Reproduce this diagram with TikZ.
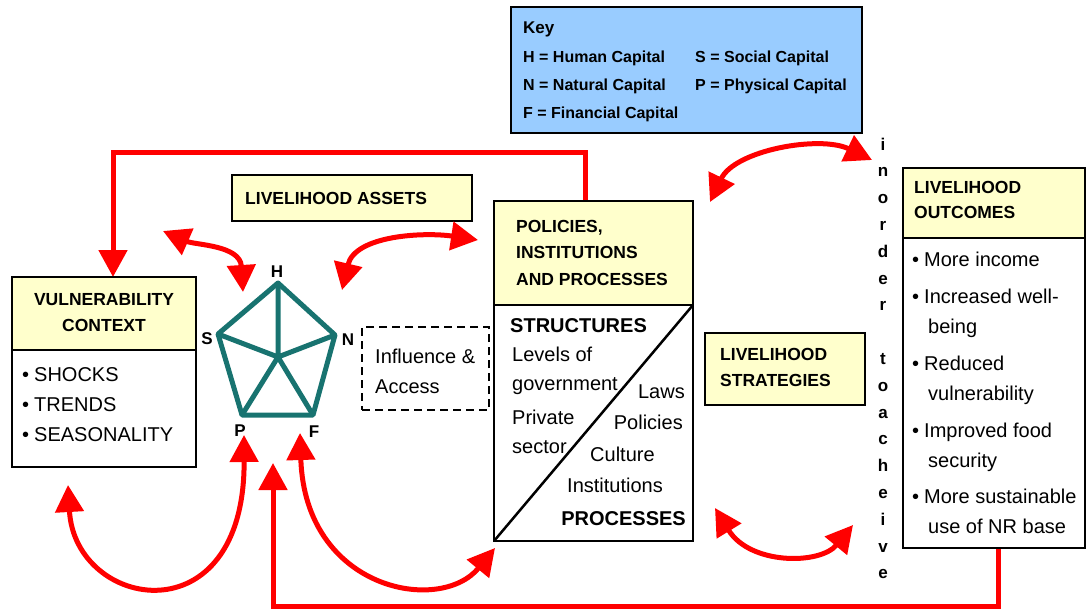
\documentclass[tikz,border=0pt]{standalone}
\usepackage{fontspec}
\setmainfont{Liberation Sans}
\usetikzlibrary{arrows.meta}
\definecolor{keyblue}{RGB}{153,204,255}
\definecolor{paleyel}{RGB}{255,255,204}
\definecolor{pentcol}{RGB}{24,115,112}
\definecolor{redl}{RGB}{255,0,0}
\begin{document}
\begin{tikzpicture}[x=1pt,y=-1pt,
 boxst/.style={draw=black, line width=2.5pt, inner sep=0pt, outer sep=0pt, anchor=north west},
 txt/.style={inner sep=0pt, anchor=base west, font=\fontsize{20}{24}\selectfont},
 hd/.style={inner sep=0pt, anchor=base west, font=\bfseries\fontsize{17.5}{21}\selectfont},
 bighd/.style={inner sep=0pt, anchor=base west, font=\bfseries\fontsize{20}{24}\selectfont},
 keyt/.style={inner sep=0pt, anchor=base west, font=\bfseries\fontsize{16}{19}\selectfont},
 lbl/.style={inner sep=0pt, font=\bfseries\fontsize{17}{20}\selectfont},
 redline/.style={draw=redl, line width=5pt},
 tip/.tip={Triangle[length=27pt,width=28pt]},
 redarr/.style={redline, tip-tip},
 pent/.style={draw=pentcol, line width=5pt, line join=round}
]
\useasboundingbox (0,0) rectangle (1086,613);

% ---------- red connectors (behind boxes) ----------
\coordinate (topL) at (113,152);
\coordinate (topR) at (585,152);
\coordinate (pipTop) at (585,201);
\coordinate (vcTop) at (113,277);
\draw[redline, -tip] (pipTop) -- (topR) -- (topL) -- (vcTop);

\coordinate (loBot) at (998,548);
\coordinate (botR) at (998,606);
\coordinate (botL) at (273,606);
\coordinate (pentArr) at (273,463);
\draw[redline, -tip] (loBot) -- (botR) -- (botL) -- (pentArr);

% ---------- key ----------
\node[boxst, fill=keyblue, minimum width=351pt, minimum height=126pt] (key) at (511,7) {};
\node[keyt, font=\bfseries\fontsize{17}{20}\selectfont] (keyT) at (523,33) {Key};
\node[keyt] (k1) at (523,62) {H = Human Capital};
\node[keyt] (k2) at (695,62) {S = Social Capital};
\node[keyt] (k3) at (523,90) {N = Natural Capital};
\node[keyt] (k4) at (695,90) {P = Physical Capital};
\node[keyt] (k5) at (523,118) {F = Financial Capital};

% ---------- vulnerability context ----------
\node[boxst, fill=paleyel, minimum width=184pt, minimum height=73pt] (vchead) at (12,277) {};
\node[boxst, fill=white, minimum width=184pt, minimum height=117pt] (vcbody) at (12,350) {};
\node[hd, anchor=base] (vc1) at (104,305) {VULNERABILITY};
\node[hd, anchor=base] (vc2) at (104,331) {CONTEXT};
\node[txt] (vb1) at (22,381) {\textbullet\hspace{5pt}SHOCKS};
\node[txt] (vb2) at (22,411) {\textbullet\hspace{5pt}TRENDS};
\node[txt] (vb3) at (22,441) {\textbullet\hspace{5pt}SEASONALITY};

% ---------- livelihood assets ----------
\node[boxst, fill=paleyel, minimum width=240pt, minimum height=46pt] (la) at (232,175) {};
\node[hd] (laT) at (245,204) {LIVELIHOOD ASSETS};

% ---------- pentagon ----------
\coordinate (pH) at (278,283);
\coordinate (pS) at (218,334);
\coordinate (pN) at (335,335);
\coordinate (pP) at (242,415);
\coordinate (pF) at (313,415);
\coordinate (pC) at (278,357);
\draw[pent] (pH) -- (pN) -- (pF) -- (pP) -- (pS) -- cycle;
\draw[pent] (pH) -- (pC) (pS) -- (pC) (pN) -- (pC) (pP) -- (pC) (pF) -- (pC);
\node[lbl] (lH) at (277,272) {H};
\node[lbl] (lS) at (207,339) {S};
\node[lbl] (lN) at (348,340) {N};
\node[lbl] (lP) at (240,431) {P};
\node[lbl] (lF) at (314,432) {F};

% ---------- influence & access ----------
\node[boxst, draw=black, line width=2.5pt, dash pattern=on 8pt off 5pt, minimum width=127pt, minimum height=83pt] (inf) at (362,327) {};
\node[txt] (inf1) at (375,363) {Influence \&};
\node[txt] (inf2) at (375,393) {Access};

% ---------- PIP ----------
\node[boxst, fill=paleyel, minimum width=199pt, minimum height=104pt] (piphead) at (494,201) {};
\node[boxst, fill=white, minimum width=199pt, minimum height=236pt] (pipbody) at (494,305) {};
\draw[line width=2.5pt] (pipbody.south west) -- (pipbody.north east);
\node[hd] (pip1) at (516,232) {POLICIES,};
\node[hd] (pip2) at (516,258) {INSTITUTIONS};
\node[hd] (pip3) at (516,285) {AND PROCESSES};
\node[bighd] (st) at (510,332) {STRUCTURES};
\node[txt] (s1) at (512,361) {Levels of};
\node[txt] (s2) at (512,390) {government};
\node[txt] (s3) at (512,424) {Private};
\node[txt] (s4) at (512,453) {sector};
\node[txt, anchor=base east] (p1) at (685,398) {Laws};
\node[txt, anchor=base east] (p2) at (683,429) {Policies};
\node[txt] (p3) at (590,461) {Culture};
\node[txt] (p4) at (567,492) {Institutions};
\node[bighd, anchor=base east] (pr) at (686,525) {PROCESSES};

% ---------- livelihood strategies ----------
\node[boxst, fill=paleyel, minimum width=160pt, minimum height=72pt] (ls) at (705,333) {};
\node[hd] (ls1) at (720,360) {LIVELIHOOD};
\node[hd] (ls2) at (720,386) {STRATEGIES};

% ---------- livelihood outcomes ----------
\node[boxst, fill=paleyel, minimum width=182pt, minimum height=70pt] (lohead) at (903,168) {};
\node[boxst, fill=white, minimum width=182pt, minimum height=310pt] (lobody) at (903,238) {};
\node[hd] (lo1) at (914,193) {LIVELIHOOD};
\node[hd] (lo2) at (914,218) {OUTCOMES};
\node[txt] (o1) at (912,266) {\textbullet\hspace{5pt}More income};
\node[txt] (o2) at (912,303) {\textbullet\hspace{5pt}Increased well-};
\node[txt] (o2b) at (928,333) {being};
\node[txt] (o3) at (912,370) {\textbullet\hspace{5pt}Reduced};
\node[txt] (o3b) at (928,400) {vulnerability};
\node[txt] (o4) at (912,437) {\textbullet\hspace{5pt}Improved food};
\node[txt] (o4b) at (928,467) {security};
\node[txt] (o5) at (912,503) {\textbullet\hspace{5pt}More sustainable};
\node[txt] (o5b) at (928,533) {use of NR base};

% ---------- vertical text ----------
\foreach \ch [count=\k from 0] in {i,n,o,r,d,e,r}
  \node[lbl, anchor=base] (va\k) at (883,150+26.8*\k) {\ch};
\foreach \ch [count=\k from 8] in {t,o,a,c,h,e,i,v,e}
  \node[lbl, anchor=base] (vb\k) at (883,150+26.8*\k) {\ch};

% ---------- curved double arrows ----------
\coordinate (a1s) at (163,231); \coordinate (a1e) at (243,292);
\draw[redarr] (a1s) .. controls (195,245) and (240,245) .. (a1e);
\coordinate (a2s) at (342,290); \coordinate (a2e) at (478,240);
\draw[redarr] (a2s) .. controls (355,235) and (425,232) .. (a2e);
\coordinate (a3s) at (710,202); \coordinate (a3e) at (872,160);
\draw[redarr] (a3s) .. controls (735,150) and (820,135) .. (a3e);
\coordinate (a4s) at (68,485); \coordinate (a4e) at (244,435);
\draw[redarr] (a4s) .. controls (75,610) and (245,640) .. (a4e);
\coordinate (a5s) at (300,433); \coordinate (a5e) at (495,548);
\draw[redarr] (a5s) .. controls (305,590) and (440,615) .. (a5e);
\coordinate (a6s) at (715,508); \coordinate (a6e) at (853,525);
\draw[redarr] (a6s) .. controls (750,565) and (820,565) .. (a6e);
\end{tikzpicture}
\end{document}
